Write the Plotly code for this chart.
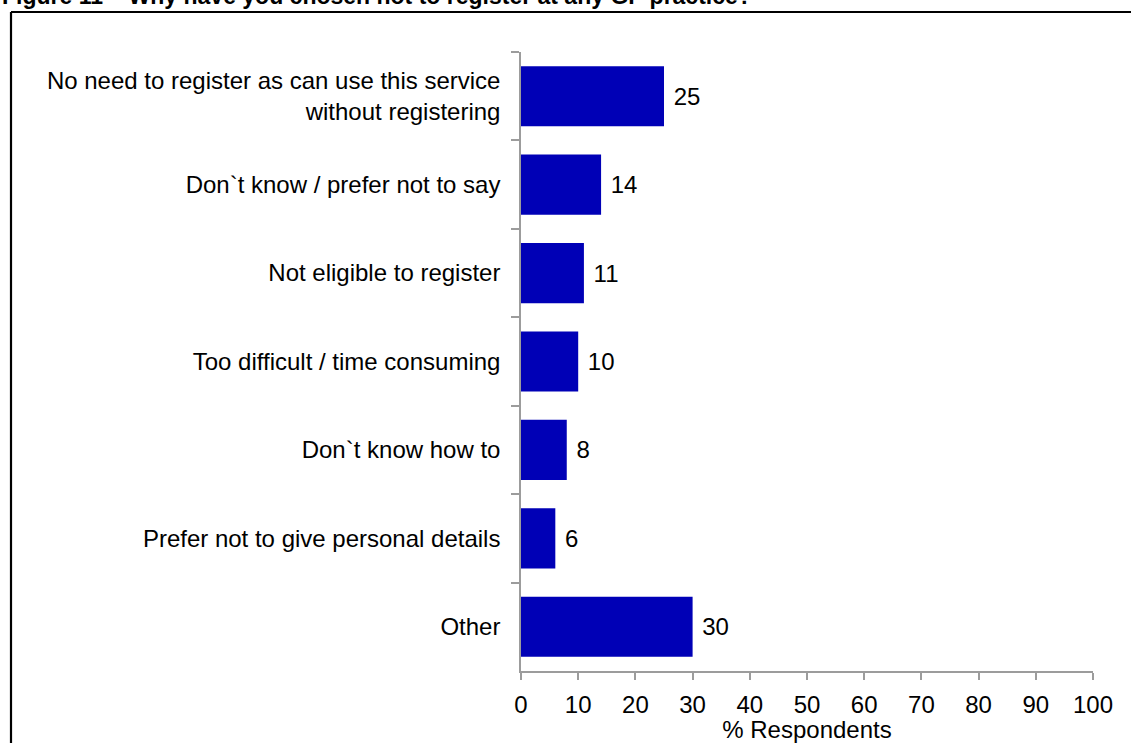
import plotly.graph_objects as go

# Reasons given for not registering with a GP practice (% of respondents)
categories = [
    "No need to register as can use this service<br>without registering",
    "Don`t know / prefer not to say",
    "Not eligible to register",
    "Too difficult / time consuming",
    "Don`t know how to",
    "Prefer not to give personal details",
    "Other",
]
values = [25, 14, 11, 10, 8, 6, 30]
x_ticks = [0, 10, 20, 30, 40, 50, 60, 70, 80, 90, 100]

title_text = "Figure 11 \u2013 Why have you chosen not to register at any GP practice?"

W, H = 1131, 743
L, R, T, B = 521, 38, 52, 72
plot_h = H - T - B
plot_w = W - L - R

FONT = "Liberation Sans, Arial, sans-serif"
FS = 24
AXIS_GREY = "#9c9c9c"

fig = go.Figure()
fig.add_trace(go.Bar(
    y=categories,
    x=values,
    orientation="h",
    marker=dict(color="#0000b6", line=dict(width=0)),
    text=values,
    texttemplate=" %{x}",
    textposition="outside",
    textfont=dict(family=FONT, size=FS, color="#000000"),
    cliponaxis=False,
    hoverinfo="skip",
))

fig.update_layout(
    width=W,
    height=H,
    margin=dict(l=L, r=R, t=T, b=B, pad=0),
    paper_bgcolor="white",
    plot_bgcolor="white",
    bargap=0.32,
    showlegend=False,
    font=dict(family=FONT, size=FS, color="#000000"),
)

fig.update_xaxes(
    range=[0, 100],
    tickvals=x_ticks,
    ticks="outside",
    ticklen=7,
    tickwidth=1.5,
    tickcolor=AXIS_GREY,
    showline=True,
    linecolor=AXIS_GREY,
    linewidth=1.5,
    showgrid=False,
    zeroline=False,
    automargin=False,
    ticklabelstandoff=4,
    tickfont=dict(family=FONT, size=FS, color="#000000"),
    title=dict(text="% Respondents", standoff=8,
               font=dict(family=FONT, size=FS, color="#000000")),
)

fig.update_yaxes(
    autorange="reversed",
    type="category",
    tickson="boundaries",
    ticks="outside",
    ticklen=8,
    tickwidth=1.5,
    tickcolor=AXIS_GREY,
    showline=True,
    linecolor=AXIS_GREY,
    linewidth=1.5,
    showgrid=False,
    zeroline=False,
    automargin=False,
    ticklabelstandoff=14,
    tickfont=dict(family=FONT, size=FS, color="#000000"),
)

# Figure frame: left and top edges of the surrounding box
def px_x(px):
    return (px - L) / plot_w

def px_y(py):
    return 1 - (py - T) / plot_h

fig.add_shape(type="line", xref="paper", yref="paper",
              x0=px_x(11), x1=px_x(W + 5), y0=px_y(12), y1=px_y(12),
              line=dict(color="black", width=2.2))
fig.add_shape(type="line", xref="paper", yref="paper",
              x0=px_x(11), x1=px_x(11), y0=px_y(12), y1=px_y(H + 5),
              line=dict(color="black", width=2.2))

fig.add_annotation(
    text="<b>" + title_text + "</b>",
    xref="paper", yref="paper",
    x=px_x(0), y=px_y(-4),
    xanchor="left", yanchor="middle",
    showarrow=False,
    font=dict(family=FONT, size=23, color="#000000"),
)

fig.write_html("out.html")
